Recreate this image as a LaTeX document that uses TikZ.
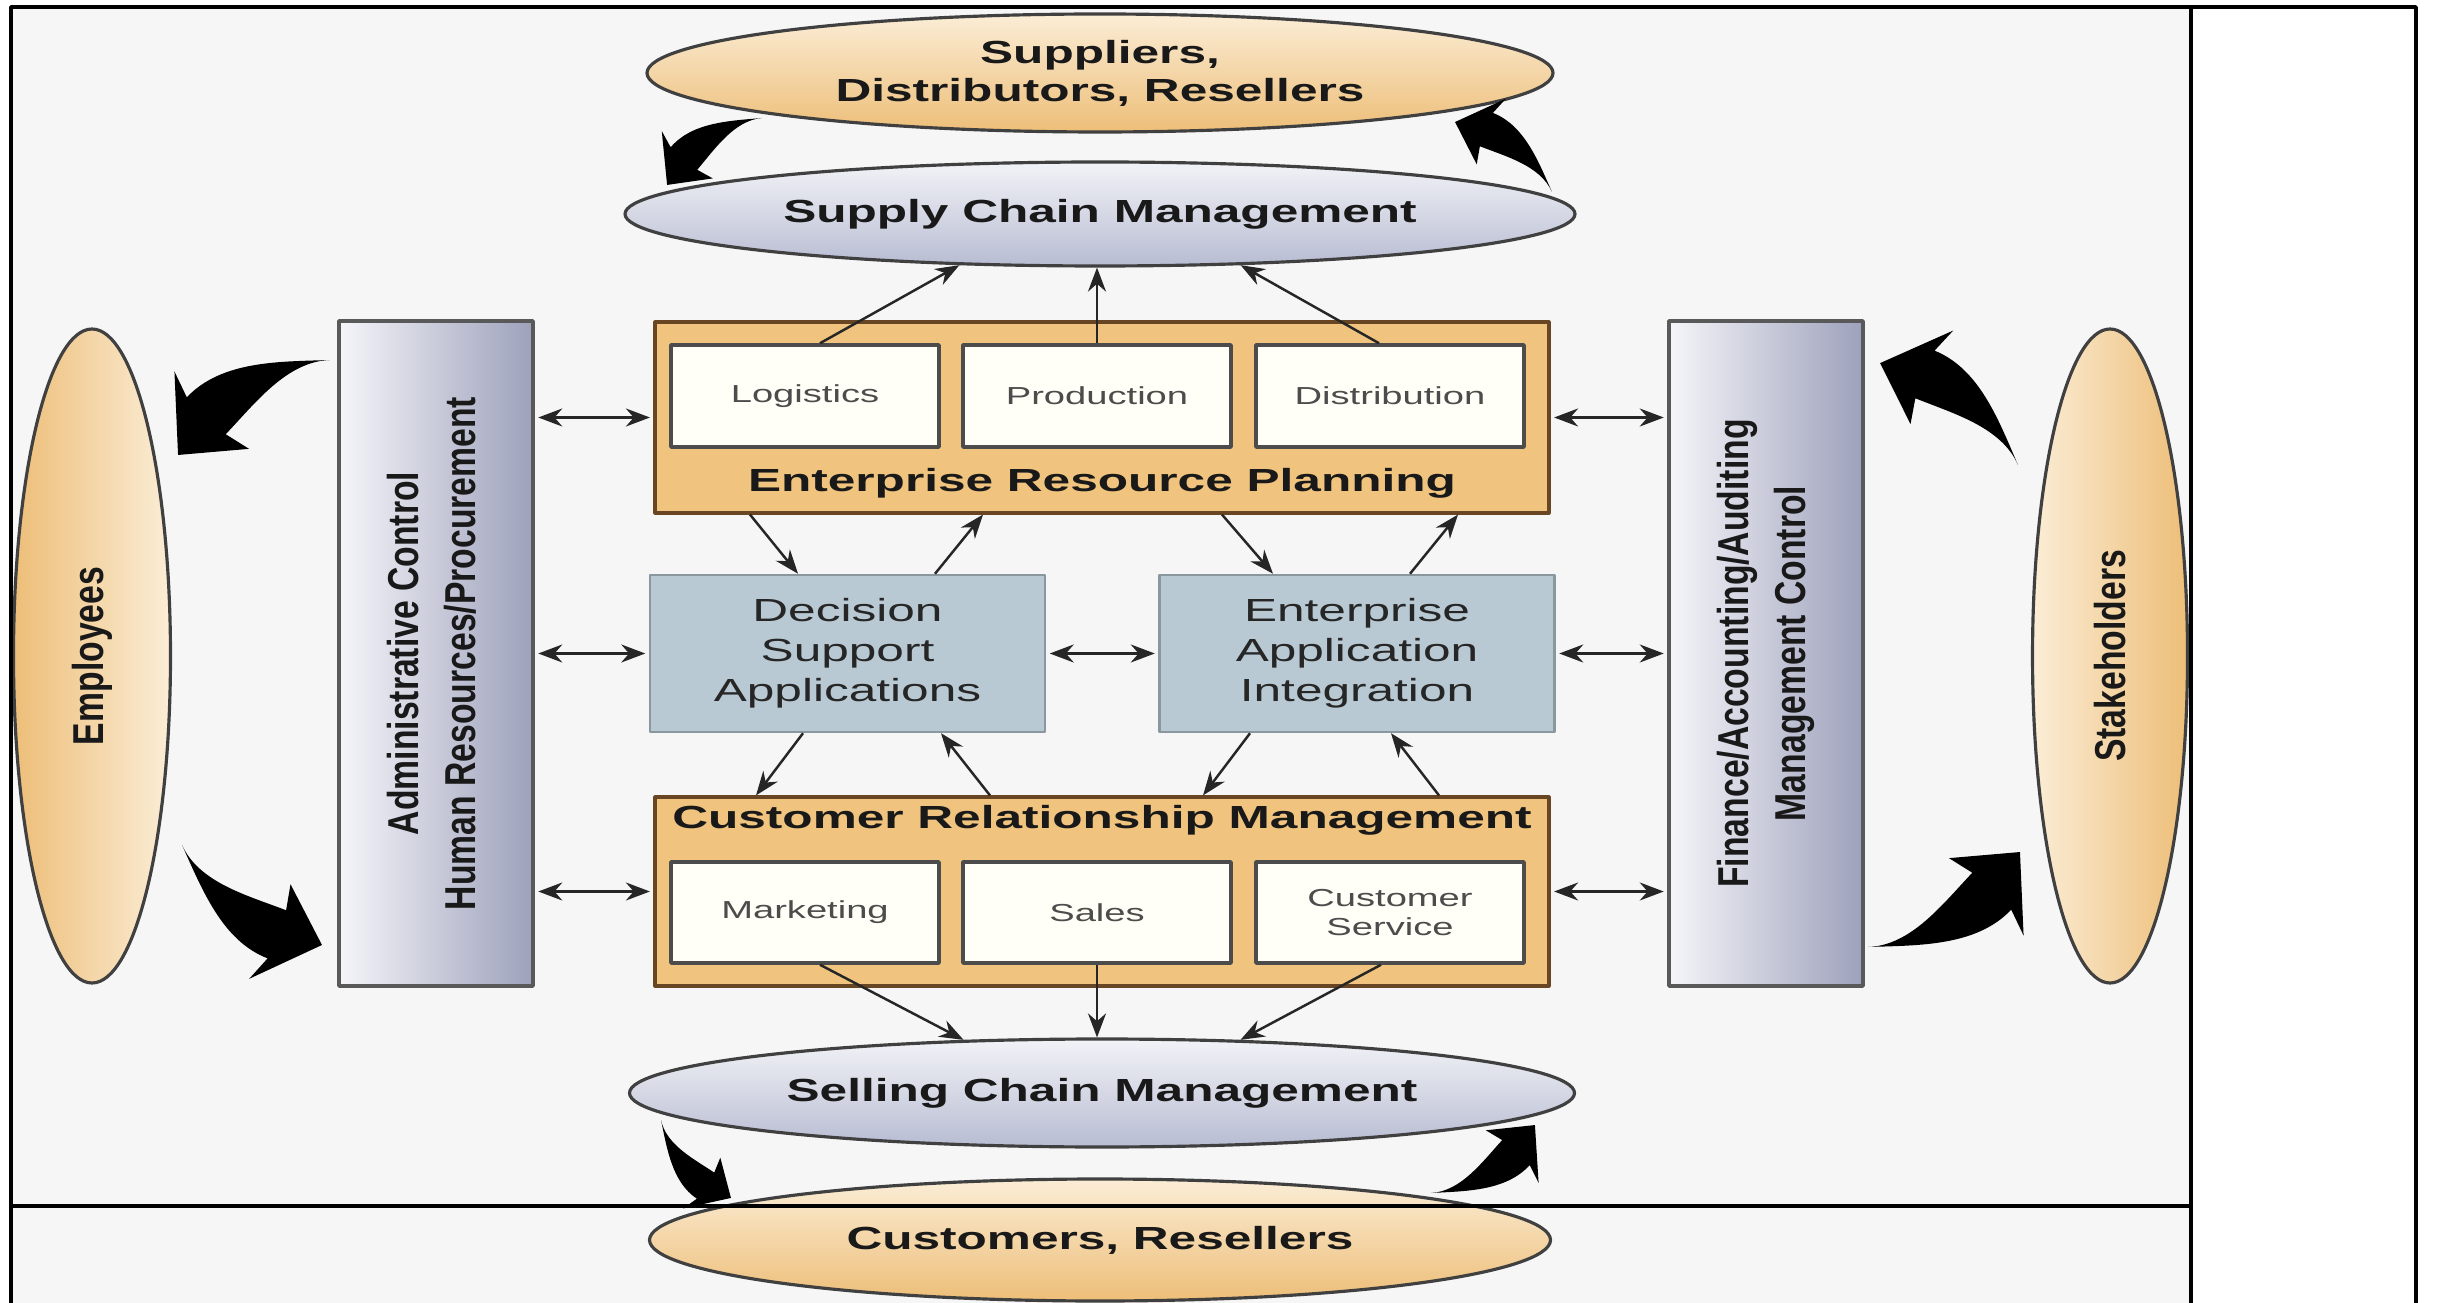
\documentclass[tikz,border=0pt]{standalone}
\usepackage{fontspec}
\newfontfamily\wideface[FakeStretch=1.55]{Liberation Sans}
\newfontfamily\narrowface[FakeStretch=0.78]{Liberation Sans}
\usetikzlibrary{shapes.geometric, arrows.meta, calc}

\definecolor{tan}{HTML}{EDBE78}
\definecolor{cream}{HTML}{FBEDD6}
\definecolor{slate}{HTML}{B8BCD2}
\definecolor{mist}{HTML}{F2F3F7}
\definecolor{sideL}{HTML}{F5F5F9}
\definecolor{sideR}{HTML}{9DA1BB}
\definecolor{steel}{HTML}{B8C9D3}
\definecolor{band}{HTML}{F0C47E}
\definecolor{paper}{HTML}{F6F6F6}

\tikzset{fatarrow/.pic={
  \fill[black] (0,0) .. controls (0.245,-0.142) and (0.514,-0.318) .. (0.788,-0.247)
    -- (0.770,-0.406) -- (1,0) -- (0.646,0.181) -- (0.713,0.043)
    .. controls (0.480,-0.017) and (0.209,-0.121) .. (0,0) -- cycle;}}

\newcommand{\bigarrow}[2]{%
  \path let \p1=($(#2)-(#1)$), \n1={atan2(\y1,\x1)}, \n2={veclen(\x1,\y1)/28.4528}
    in (#1) pic[rotate=\n1, scale=\n2] {fatarrow};}

\begin{document}
\begin{tikzpicture}[>={Stealth[length=2.4mm,width=1.8mm]},
                    line join=round,
                    hdr/.style={font=\wideface\bfseries\fontsize{9.1}{10.8}\selectfont, text=black!90},
                    vtext/.style={font=\narrowface\bfseries\fontsize{12.3}{16.2}\selectfont, text=black!90},
                    oval/.style={ellipse, draw=black!75, line width=0.9pt, inner sep=0pt},
                    tanoval/.style={oval, top color=cream, bottom color=tan, hdr},
                    blueoval/.style={oval, top color=mist, bottom color=slate, hdr},
                    sidebox/.style={rectangle, draw=black!65, line width=1pt, left color=sideL, right color=sideR,
                                    minimum width=1.94cm, minimum height=6.65cm, vtext},
                    module/.style={rectangle, draw=brown!55!black, line width=0.9pt, fill=band,
                                   minimum width=8.94cm, minimum height=1.91cm},
                    sub/.style={rectangle, draw=black!70, line width=1pt, fill=white!97!yellow,
                                minimum width=2.68cm, minimum height=1.02cm, align=center,
                                font=\wideface\fontsize{7}{8.5}\selectfont, text=black!70},
                    app/.style={rectangle, draw=steel!75!black, line width=0.7pt, fill=steel,
                                minimum width=3.95cm, minimum height=1.57cm, align=center,
                                font=\wideface\fontsize{9.1}{11.4}\selectfont, text=black!85},
                    link/.style={->, line width=0.7pt, draw=black!85},
                    twoway/.style={<->, line width=0.7pt, draw=black!85, shorten <=1pt, shorten >=1pt}]

	\useasboundingbox (0,0) rectangle (24.37,-13.03);
	\fill[paper] (0.11,-0.07) rectangle (21.91,-13.03);

	\node[tanoval, minimum width=9.06cm, minimum height=1.18cm, align=center] (sup) at (11.00,-0.73) {Suppliers,\\Distributors, Resellers};
	\node[blueoval, minimum width=9.50cm, minimum height=1.04cm] (scm) at (11.00,-2.14) {Supply Chain Management};
	\node[blueoval, minimum width=9.45cm, minimum height=1.08cm] (sell) at (11.02,-10.93) {Selling Chain Management};
	\node[tanoval, minimum width=9.01cm, minimum height=1.22cm] (cust) at (11.00,-12.40) {Customers, Resellers};
	\node[oval, left color=tan, right color=cream, vtext, minimum width=1.57cm, minimum height=6.54cm] (emp) at (0.92,-6.56) {\rotatebox{90}{Employees}};
	\node[oval, left color=cream, right color=tan, vtext, minimum width=1.55cm, minimum height=6.54cm] (stake) at (21.10,-6.56) {\rotatebox{90}{Stakeholders}};

	\node[sidebox] (admin) at (4.36,-6.535) {\rotatebox{90}{\begin{tabular}{@{}c@{}}Administrative Control\\Human Resources/Procurement\end{tabular}}};
	\node[sidebox] (fin) at (17.66,-6.535) {\rotatebox{90}{\begin{tabular}{@{}c@{}}Finance/Accounting/Auditing\\Management Control\end{tabular}}};

	\node[module] (erp) at (11.02,-4.175) {};
	\node[sub] (logi) at (8.05,-3.96) {Logistics};
	\node[sub] (prod) at (10.97,-3.96) {Production};
	\node[sub] (dist) at (13.90,-3.96) {Distribution};
	\node[hdr] (erpname) at ([yshift=3.1mm]erp.south) {Enterprise Resource Planning};

	\node[app] (dsa) at (8.475,-6.535) {Decision\\Support\\Applications};
	\node[app] (eai) at (13.57,-6.535) {Enterprise\\Application\\Integration};

	\node[module, minimum height=1.89cm] (crm) at (11.02,-8.915) {};
	\node[hdr] (crmname) at ([yshift=-2.5mm]crm.north) {Customer Relationship Management};
	\node[sub, minimum height=1.01cm] (mkt) at (8.05,-9.125) {Marketing};
	\node[sub, minimum height=1.01cm] (sales) at (10.97,-9.125) {Sales};
	\node[sub, minimum height=1.01cm] (csrv) at (13.90,-9.125) {Customer\\Service};

	\draw[link] ([xshift=1.5mm]logi.north) -- (scm.200);
	\draw[link] (prod.north) -- (prod.north |- scm.south);
	\draw[link] ([xshift=-1.1mm]dist.north) -- (scm.340);

	\draw[link] ([xshift=-35.2mm]erp.south) -- ([xshift=-4.95mm]dsa.north);
	\draw[link] ([xshift=8.75mm]dsa.north) -- ([xshift=-11.9mm]erp.south);
	\draw[link] ([xshift=12mm]erp.south) -- ([xshift=-8.4mm]eai.north);
	\draw[link] ([xshift=5.3mm]eai.north) -- ([xshift=35.6mm]erp.south);
	\draw[link] ([xshift=-4.45mm]dsa.south) -- ([xshift=-34.6mm]crm.north);
	\draw[link] ([xshift=-11.2mm]crm.north) -- ([xshift=9.35mm]dsa.south);
	\draw[link] ([xshift=-10.7mm]eai.south) -- ([xshift=10.1mm]crm.north);
	\draw[link] ([xshift=33.7mm]crm.north) -- ([xshift=3.4mm]eai.south);

	\draw[link] ([xshift=1.5mm]mkt.south) -- (sell.159);
	\draw[link] (sales.south) -- (sales.south |- sell.north);
	\draw[link] ([xshift=-0.9mm]csrv.south) -- (sell.21);

	\draw[twoway] (erp.west -| admin.east) -- (erp.west);
	\draw[twoway] (dsa.west -| admin.east) -- (dsa.west);
	\draw[twoway] (crm.west -| admin.east) -- (crm.west);
	\draw[twoway] (dsa.east) -- (eai.west);
	\draw[twoway] (erp.east) -- (erp.east -| fin.west);
	\draw[twoway] (eai.east) -- (eai.east -| fin.west);
	\draw[twoway] (crm.east) -- (crm.east -| fin.west);

	\coordinate (sa) at (7.62,-1.18);   \coordinate (sb) at (6.67,-1.85);
	\coordinate (sc) at (15.52,-1.92);  \coordinate (sd) at (14.55,-1.22);
	\coordinate (ea) at (3.30,-3.60);   \coordinate (eb) at (1.78,-4.55);
	\coordinate (ec) at (1.82,-8.45);   \coordinate (ed) at (3.22,-9.45);
	\coordinate (ka) at (20.18,-4.65);  \coordinate (kb) at (18.80,-3.63);
	\coordinate (kc) at (18.68,-9.47);  \coordinate (kd) at (20.20,-8.52);
	\coordinate (ca) at (6.61,-11.20);  \coordinate (cb) at (7.31,-11.98);
	\coordinate (cc) at (14.31,-11.93); \coordinate (cd) at (15.35,-11.25);
	\bigarrow{sa}{sb} \bigarrow{sc}{sd}
	\bigarrow{ea}{eb} \bigarrow{ec}{ed}
	\bigarrow{ka}{kb} \bigarrow{kc}{kd}
	\bigarrow{ca}{cb} \bigarrow{cc}{cd}

	\draw[line width=1pt] (0.11,-13.2) -- (0.11,-0.07) -- (24.16,-0.07) -- (24.16,-13.2);
	\draw[line width=1pt] (21.91,-0.07) -- (21.91,-13.2);
	\draw[line width=1.2pt] (0.11,-12.06) -- (21.91,-12.06);
\end{tikzpicture}
\end{document}
